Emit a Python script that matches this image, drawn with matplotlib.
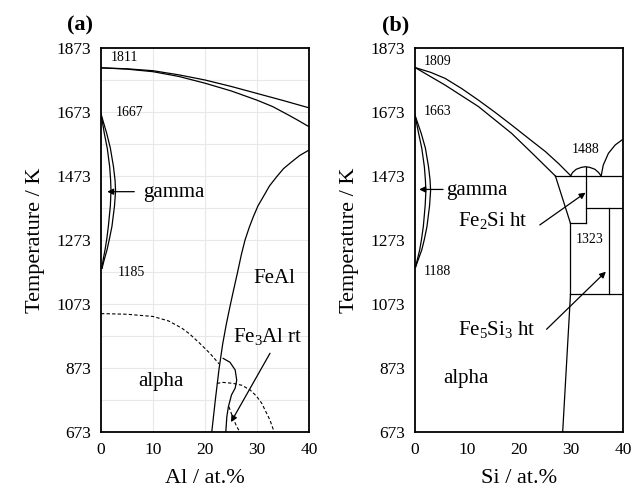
import matplotlib
matplotlib.use('Agg')
import matplotlib.pyplot as plt
from matplotlib.ticker import FixedLocator

plt.rcParams['font.family'] = ['Liberation Serif', 'DejaVu Serif']
plt.rcParams['mathtext.fontset'] = 'custom'
plt.rcParams['mathtext.rm'] = 'Liberation Serif'
plt.rcParams['mathtext.it'] = 'Liberation Serif:italic'

# ---------------- axes ----------------
T_TICKS = [673, 873, 1073, 1273, 1473, 1673, 1873]
X_TICKS = [0, 10, 20, 30, 40]
GRID_T = [773, 973, 1173, 1373, 1573, 1773]

# ---------------- Fe-Al (a) ----------------
al_liq_x = [0, 5, 10, 15, 20, 25, 30, 35, 40]
al_liq_T = [1811, 1808, 1802, 1789, 1773, 1753, 1731, 1709, 1686]
al_sol_x = [0, 5, 10, 15, 20, 25, 30, 33, 36, 38, 40]
al_sol_T = [1811, 1807, 1799, 1784, 1763, 1739, 1710, 1690, 1664, 1646, 1627]
al_gam_T = [1667, 1606, 1560, 1502, 1460, 1427, 1380, 1315, 1275, 1242, 1210, 1185]
al_gam_out_x = [0, 1.1, 1.8, 2.4, 2.7, 2.8, 2.6, 2.1, 1.6, 1.15, 0.6, 0.2]
al_gam_in_x = [0, 0.64, 1.2, 1.67, 1.85, 1.92, 1.8, 1.41, 1.1, 0.77, 0.4, 0.2]
al_b2_x = [21.3, 22.0, 22.7, 23.4, 24.1, 24.8, 25.5, 26.3, 27.0, 27.7, 28.5,
           29.3, 30.2, 31.2, 32.4, 33.8, 35.1, 36.5, 38.2, 40]
al_b2_T = [673, 775, 870, 948, 1010, 1065, 1117, 1175, 1228, 1273, 1312,
           1346, 1380, 1408, 1442, 1471, 1496, 1515, 1537, 1554]
al_fe3_x = [23.5, 24.8, 25.8, 26.1, 25.8, 25.1, 24.5, 24.2, 24.0]
al_fe3_T = [903, 891, 867, 835, 810, 789, 752, 721, 673]
al_curie_x = [0, 5, 10, 13, 15.5, 17, 19, 21, 22.7]
al_curie_T = [1043, 1041, 1034, 1020, 998, 980, 950, 918, 886]
al_d03_x = [22.3, 23.5, 25.4, 27.1, 28.7, 29.9, 30.9, 32.5, 33.3]
al_d03_T = [825, 828, 825, 819, 804, 785, 763, 710, 673]
al_d3_x = [24.6, 25.4, 26.1, 26.7]
al_d3_T = [752, 716, 690, 673]

# ---------------- Fe-Si (b) ----------------
si_liq_x = [0, 3, 5.8, 9, 12.2, 15.4, 18.6, 21.8, 25.1, 27.6, 30.0]
si_liq_T = [1812, 1797, 1778, 1746, 1710, 1672, 1632, 1591, 1549, 1512, 1473]
si_sol_x = [0, 5.8, 12.2, 18.6, 22.8, 27.0]
si_sol_T = [1812, 1757, 1690, 1606, 1540, 1473]
si_gam_T = [1663, 1606, 1560, 1502, 1460, 1427, 1380, 1315, 1275, 1242, 1215, 1188]
si_gam_out_x = [0, 1.2, 2.0, 2.6, 2.9, 3.0, 2.8, 2.3, 1.8, 1.3, 0.7, 0.1]
si_gam_in_x = [0, 0.7, 1.3, 1.8, 2.0, 2.1, 1.95, 1.6, 1.25, 0.9, 0.5, 0.1]
si_dome_x = [29.9, 30.3, 31.0, 32.0, 32.8, 33.6, 34.6, 35.3, 35.8]
si_dome_T = [1473, 1484, 1494, 1500, 1502, 1500, 1494, 1484, 1473]
si_rliq_x = [35.8, 36.2, 37.2, 38.5, 40]
si_rliq_T = [1473, 1507, 1544, 1570, 1588]
# straight boundaries: (x0, T0, x1, T1)
si_segments = [
    (27.0, 1473, 40.0, 1473),
    (27.0, 1473, 29.9, 1325),
    (32.8, 1502, 32.8, 1325),
    (29.9, 1325, 32.8, 1325),
    (32.8, 1372, 40.0, 1372),
    (37.3, 1372, 37.3, 1103),
    (29.9, 1103, 40.0, 1103),
    (29.9, 1325, 29.9, 1103),
    (29.9, 1103, 28.4, 673),
]

fig = plt.figure(figsize=(6.44, 4.88), dpi=100)
axa = fig.add_axes([101/644, 1-432/488, 208/644, 384/488])
axb = fig.add_axes([415/644, 1-432/488, 208/644, 384/488])

LW = 0.9
ARROW = dict(arrowstyle='-|>', lw=0.9, color='k', mutation_scale=9,
             shrinkA=0, shrinkB=0)

for ax in (axa, axb):
    ax.set_xlim(0, 40)
    ax.set_ylim(673, 1873)
    ax.xaxis.set_major_locator(FixedLocator(X_TICKS))
    ax.yaxis.set_major_locator(FixedLocator(T_TICKS))
    ax.tick_params(length=0, labelsize=12.5, pad=7)
    for s in ax.spines.values():
        s.set_linewidth(1.3)
    ax.set_ylabel('Temperature / K', fontsize=16, labelpad=8)

# grid only on (a)
for g in X_TICKS[1:-1]:
    axa.axvline(g, color='#e8e8e8', lw=0.8, zorder=0)
for g in T_TICKS[1:-1] + GRID_T:
    axa.axhline(g, color='#e8e8e8', lw=0.8, zorder=0)

# ---- panel (a) ----
axa.plot(al_liq_x, al_liq_T, 'k-', lw=LW)
axa.plot(al_sol_x, al_sol_T, 'k-', lw=LW)
axa.plot(al_gam_out_x, al_gam_T, 'k-', lw=LW)
axa.plot(al_gam_in_x, al_gam_T, 'k-', lw=LW)
axa.plot(al_b2_x, al_b2_T, 'k-', lw=LW)
axa.plot(al_fe3_x, al_fe3_T, 'k-', lw=LW)
axa.plot(al_curie_x, al_curie_T, 'k', lw=0.8, ls=(0, (3, 2)))
axa.plot(al_d03_x, al_d03_T, 'k', lw=0.8, ls=(0, (3, 2)))
axa.plot(al_d3_x, al_d3_T, 'k', lw=0.8, ls=(0, (3, 2)))

axa.text(4.6, 1842, '1811', fontsize=10, ha='center', va='center')
axa.text(5.4, 1670, '1667', fontsize=10, ha='center', va='center')
axa.text(5.9, 1172, '1185', fontsize=10, ha='center', va='center')
axa.text(8.1, 1420, 'gamma', fontsize=15, ha='left', va='center')
axa.text(29.3, 1153, 'FeAl', fontsize=15, ha='left', va='center')
axa.text(25.4, 971, r'Fe$_\mathrm{3}$Al rt', fontsize=15, ha='left', va='center')
axa.text(7.2, 830, 'alpha', fontsize=15, ha='left', va='center')
axa.annotate('', xy=(1.2, 1424), xytext=(6.4, 1424), arrowprops=ARROW)
axa.annotate('', xy=(25.0, 704), xytext=(32.5, 919), arrowprops=ARROW)
axa.set_xlabel('Al / at.%', fontsize=16, labelpad=8)

# ---- panel (b) ----
axb.plot(si_liq_x, si_liq_T, 'k-', lw=LW)
axb.plot(si_sol_x, si_sol_T, 'k-', lw=LW)
axb.plot(si_gam_out_x, si_gam_T, 'k-', lw=LW)
axb.plot(si_gam_in_x, si_gam_T, 'k-', lw=LW)
axb.plot(si_dome_x, si_dome_T, 'k-', lw=LW)
axb.plot(si_rliq_x, si_rliq_T, 'k-', lw=LW)
for x0, t0, x1, t1 in si_segments:
    axb.plot([x0, x1], [t0, t1], 'k-', lw=LW)

axb.text(4.4, 1832, '1809', fontsize=10, ha='center', va='center')
axb.text(4.4, 1674, '1663', fontsize=10, ha='center', va='center')
axb.text(32.75, 1556, '1488', fontsize=10, ha='center', va='center')
axb.text(33.5, 1275, '1323', fontsize=10, ha='center', va='center')
axb.text(4.3, 1174, '1188', fontsize=10, ha='center', va='center')
axb.text(6.0, 1427, 'gamma', fontsize=15, ha='left', va='center')
axb.text(8.3, 1333, r'Fe$_\mathrm{2}$Si ht', fontsize=15, ha='left', va='center')
axb.text(8.3, 992, r'Fe$_\mathrm{5}$Si$_\mathrm{3}$ ht', fontsize=15, ha='left', va='center')
axb.text(5.4, 841, 'alpha', fontsize=15, ha='left', va='center')
axb.annotate('', xy=(0.8, 1431), xytext=(5.4, 1431), arrowprops=ARROW)
axb.annotate('', xy=(32.8, 1421), xytext=(24.0, 1320), arrowprops=ARROW)
axb.annotate('', xy=(36.7, 1174), xytext=(25.3, 994), arrowprops=ARROW)
axb.set_xlabel('Si / at.%', fontsize=16, labelpad=8)

fig.text(80/644, 1-25/488, '(a)', fontsize=16, fontweight='bold', ha='center', va='center')
fig.text(396/644, 1-25/488, '(b)', fontsize=16, fontweight='bold', ha='center', va='center')

fig.savefig('out.png', dpi=100)
